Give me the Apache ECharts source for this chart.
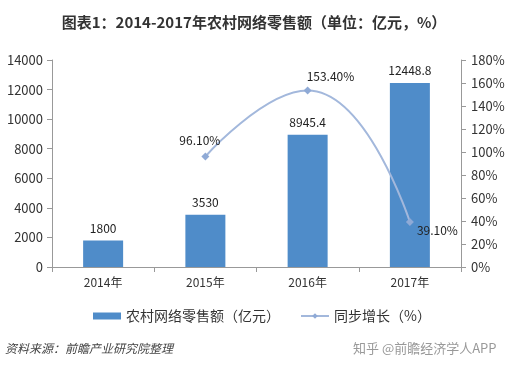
<!DOCTYPE html>
<html><head><meta charset="utf-8">
<script src="https://cdn.jsdelivr.net/npm/echarts@6/dist/echarts.min.js"></script>
<style>html,body{margin:0;padding:0;background:#fff}#c{width:508px;height:369px}</style>
</head><body><div id="c"></div>
<script>
var categories = ['2014年','2015年','2016年','2017年'];
var salesValues = [1800, 3530, 8945.4, 12448.8];
var growthValues = [null, 96.1, 153.4, 39.1];
var leftTicks = [0, 14000, 2000];
var rightTicks = [0, 180, 20];

var FONT = '"Noto Sans CJK SC", "Noto Sans", sans-serif';
var chart = echarts.init(document.getElementById('c'));
var growthLabelPos = [null, ['left',[24,-16]], ['right',[-10,-14]], ['right',[-2,8]]];
chart.setOption({
  animation: false,
  textStyle: {fontFamily: FONT},
  title: {
    text: '图表1：2014-2017年农村网络零售额（单位：亿元，%）',
    left: 'center', top: 10,
    textStyle: {fontSize: 15, fontWeight: 'bold', color: '#333', fontFamily: FONT}
  },
  grid: {left: 52, right: 47, top: 60, bottom: 102, containLabel: false},
  legend: {
    top: 304, left: 88, itemGap: 20,
    textStyle: {fontSize: 14, color: '#333', fontFamily: FONT},
    data: [
      {name: '农村网络零售额（亿元）', icon: 'rect', itemStyle: {color: '#4f8cc9'}},
      {name: '同步增长（%）'}
    ],
    itemWidth: 28, itemHeight: 7
  },
  xAxis: {
    type: 'category', data: categories,
    axisLine: {lineStyle: {color: '#999'}},
    axisTick: {show: true, alignWithLabel: false, lineStyle: {color: '#999'}},
    axisLabel: {color: '#333', fontSize: 12, margin: 9}
  },
  yAxis: [{
    type: 'value', min: leftTicks[0], max: leftTicks[1], interval: leftTicks[2],
    axisLine: {show: true, lineStyle: {color: '#999'}},
    axisTick: {show: true, lineStyle: {color: '#999'}},
    splitLine: {show: false},
    axisLabel: {color: '#333', fontSize: 13, margin: 9, formatter: function(v){return String(v);}}
  }, {
    type: 'value', min: rightTicks[0], max: rightTicks[1], interval: rightTicks[2],
    axisLine: {show: true, lineStyle: {color: '#999'}},
    axisTick: {show: true, inside: false, lineStyle: {color: '#999'}},
    splitLine: {show: false},
    axisLabel: {color: '#333', fontSize: 13, margin: 10, formatter: '{value}%'}
  }],
  series: [{
    name: '农村网络零售额（亿元）', type: 'bar', data: salesValues, barWidth: 40,
    itemStyle: {color: '#4f8cc9'},
    label: {show: true, position: 'top', color: '#222', fontSize: 12, distance: 6}
  }, {
    name: '同步增长（%）', type: 'line', yAxisIndex: 1, smooth: true,
    data: growthValues.map(function(v, i){
      if (v === null) return null;
      var p = growthLabelPos[i];
      return {value: v, label: {position: p[0], offset: p[1]}};
    }),
    symbol: 'diamond', symbolSize: 8,
    lineStyle: {color: '#a3b8dc', width: 2},
    itemStyle: {color: '#8faad6'},
    label: {show: true, color: '#222', fontSize: 12, formatter: function(p){return p.value.toFixed(2)+'%';}}
  }],
  graphic: [{
    type: 'text', left: 5, top: 342,
    style: {text: '资料来源：前瞻产业研究院整理', font: 'italic 12px ' + FONT, fill: '#444'}
  }, {
    type: 'text', left: 353, top: 342,
    style: {text: '知乎 @前瞻经济学人APP', font: '13px ' + FONT, fill: '#999'}
  }]
});
</script></body></html>
